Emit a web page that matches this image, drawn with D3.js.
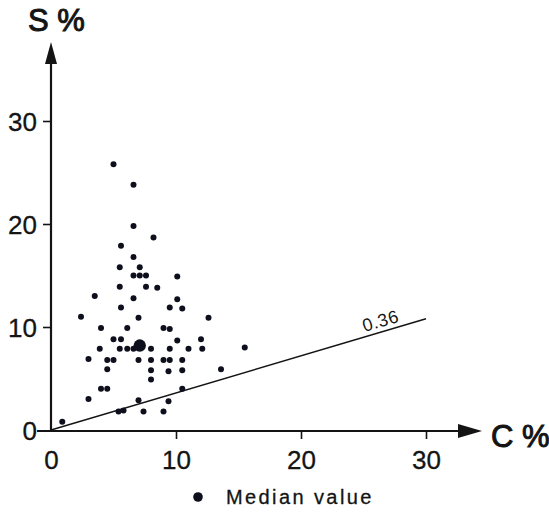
<!DOCTYPE html>
<html>
<head>
<meta charset="utf-8">
<script src="https://cdn.jsdelivr.net/npm/d3@7/dist/d3.min.js"></script>
<style>
  body { margin: 0; background: #fff; }
  svg { display: block; }
</style>
</head>
<body>
<script>
// C % and S %, one entry per sample
var cVals = [5.0, 6.6, 6.6, 8.2, 5.6, 6.6, 5.5, 7.1, 6.6, 7.1, 7.6, 10.1, 5.5, 7.6, 8.5,
    3.5, 6.6, 10.1, 5.6, 9.5, 10.5, 2.4, 7.0, 12.6, 4.0, 6.1, 9.0, 9.5, 5.0, 5.6, 10.1,
    12.0, 3.9, 5.5, 6.1, 6.6, 8.0, 9.5, 11.0, 12.1, 15.5, 3.0, 4.5, 5.0, 7.0, 8.0, 9.0,
    9.5, 10.5, 4.5, 8.0, 9.4, 10.5, 13.6, 8.0, 4.0, 4.5, 10.5, 3.0, 7.0, 9.4, 5.4, 5.8,
    7.4, 9.0, 0.9];
var sVals = [25.8, 23.8, 19.8, 18.7, 17.9, 16.8, 15.8, 15.8, 15.0, 15.0, 15.0, 14.9, 13.9, 13.9, 13.8,
    13.0, 12.8, 12.7, 11.9, 11.9, 11.8, 11.0, 10.9, 10.9, 9.9, 9.9, 9.9, 9.8, 8.8, 8.8, 8.7,
    8.8, 7.9, 7.9, 7.9, 7.9, 7.9, 7.9, 7.9, 7.9, 8.0, 6.9, 6.8, 6.8, 6.8, 6.8, 6.8,
    6.8, 6.8, 5.9, 5.8, 5.7, 5.8, 5.9, 4.9, 4.0, 4.0, 4.0, 3.0, 2.9, 2.8, 1.8, 1.9,
    1.8, 1.8, 0.8];
var median = [7.1, 8.2];
var slope = 0.36;
var tickVals = [0, 10, 20, 30];
var xLabel = "C %";
var yLabel = "S %";
var legendLabel = "Median value";

var w = 549;
var h = 512;
var ink = "#141414";
var dotColor = "#0e0f1c";

var svg = d3.select("body")
    .append("svg")
    .attr("width", w)
    .attr("height", h)
    .style("font-family", "'Liberation Sans', Arial, sans-serif");

var xScale = d3.scaleLinear().domain([0, 30]).range([51, 426]);
var yScale = d3.scaleLinear().domain([0, 30]).range([430, 121]);

// axes (ticks only, the arrow lines are drawn below)
var xAxis = d3.axisBottom(xScale).tickValues(tickVals).tickSize(9).tickPadding(12).tickSizeOuter(0);
var yAxis = d3.axisLeft(yScale).tickValues(tickVals).tickSize(8).tickPadding(6).tickSizeOuter(0);

var gx = svg.append("g")
    .attr("transform", "translate(0," + yScale(0) + ")")
    .call(xAxis);
var gy = svg.append("g")
    .attr("transform", "translate(" + xScale(0) + ",0)")
    .call(yAxis);

[gx, gy].forEach(function (g) {
    g.select(".domain").remove();
    g.selectAll("line").attr("stroke", ink).attr("stroke-width", 1.6);
    g.selectAll("text")
        .attr("fill", ink)
        .attr("stroke", ink)
        .attr("stroke-width", 0.3)
        .attr("font-size", "26px")
        .attr("font-family", "'Liberation Sans', Arial, sans-serif");
});
gy.selectAll("text").attr("dy", "0.36em");
gy.selectAll(".tick").filter(function (d) { return d === 0; }).select("line").remove();
gx.selectAll(".tick").filter(function (d) { return d === 0; }).select("line").remove();

// arrow axes
svg.append("line")
    .attr("x1", xScale(0)).attr("y1", yScale(0))
    .attr("x2", xScale(0)).attr("y2", 60)
    .attr("stroke", ink).attr("stroke-width", 2.2);
svg.append("path")
    .attr("d", "M" + xScale(0) + ",42 L" + (xScale(0) - 6) + ",64 L" + (xScale(0) + 6) + ",64 Z")
    .attr("fill", ink);

svg.append("line")
    .attr("x1", xScale(0) - 14).attr("y1", yScale(0) + 1)
    .attr("x2", 462).attr("y2", yScale(0) + 1)
    .attr("stroke", ink).attr("stroke-width", 2.2);
svg.append("path")
    .attr("d", "M482," + (yScale(0) + 1) + " L458," + (yScale(0) - 6) + " L458," + (yScale(0) + 8) + " Z")
    .attr("fill", ink);

svg.append("text")
    .attr("x", 28).attr("y", 31)
    .attr("font-size", "31px")
    .attr("fill", ink)
    .attr("stroke", ink)
    .attr("stroke-width", 1)
    .text(yLabel);
svg.append("text")
    .attr("x", 491).attr("y", 447)
    .attr("font-size", "31px")
    .attr("fill", ink)
    .attr("stroke", ink)
    .attr("stroke-width", 1)
    .text(xLabel);

// 0.36 line
svg.append("line")
    .attr("x1", xScale(0)).attr("y1", yScale(0))
    .attr("x2", xScale(30)).attr("y2", yScale(30 * slope))
    .attr("stroke", ink).attr("stroke-width", 1.5);

var ang = Math.atan2(yScale(0) - yScale(30 * slope), xScale(30) - xScale(0)) * 180 / Math.PI;
var lx = xScale(26.5), ly = yScale(26.5 * slope) - 5;
svg.append("text")
    .attr("transform", "translate(" + lx + "," + ly + ") rotate(" + (-ang) + ")")
    .attr("text-anchor", "middle")
    .attr("font-size", "18px")
    .attr("letter-spacing", "0.5px")
    .attr("fill", ink)
    .text(slope.toFixed(2));

// samples
svg.selectAll("circle.pt")
    .data(d3.range(cVals.length))
    .enter()
    .append("circle")
    .attr("class", "pt")
    .attr("cx", function (i) { return xScale(cVals[i]); })
    .attr("cy", function (i) { return yScale(sVals[i]); })
    .attr("r", 3)
    .attr("fill", dotColor);

svg.append("circle")
    .attr("cx", xScale(median[0]))
    .attr("cy", yScale(median[1]))
    .attr("r", 6.2)
    .attr("fill", dotColor);

// legend
svg.append("circle")
    .attr("cx", 198).attr("cy", 497)
    .attr("r", 4.8)
    .attr("fill", dotColor);
svg.append("text")
    .attr("x", 226).attr("y", 504)
    .attr("font-size", "20px")
    .attr("letter-spacing", "2.4px")
    .attr("fill", ink)
    .attr("stroke", ink)
    .attr("stroke-width", 0.3)
    .text(legendLabel);
</script>
</body>
</html>
